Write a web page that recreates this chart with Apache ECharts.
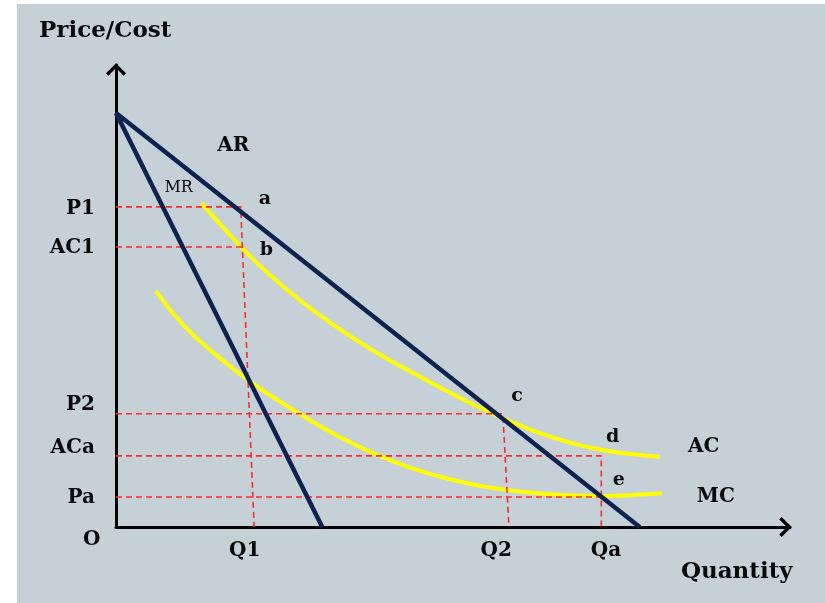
<!DOCTYPE html>
<html>
<head>
<meta charset="utf-8">
<script src="https://cdn.jsdelivr.net/npm/echarts@6/dist/echarts.min.js"></script>
<style>html,body{margin:0;padding:0;background:#fff;}#c{width:825px;height:603px;}</style>
</head>
<body>
<div id="c"></div>
<script>
// ---- data (unitless economic diagram coordinates) ----
const demandIntercept = 89.6;   // price at Q = 0 for AR and MR
const arEndQ = 77.7;            // AR meets the quantity axis
const mrEndQ = 30.6;            // MR meets the quantity axis

const acQ    = [12.7, 18.9, 22.8, 27.8, 32.7, 37.7, 42.6, 48.1, 53.0, 58.0, 62.9, 67.8, 72.8, 77.7, 80.7];
const acCost = [70.1, 60.1, 54.6, 48.5, 43.3, 38.6, 34.5, 30.2, 26.5, 23.2, 20.3, 18.1, 16.5, 15.6, 15.2];

const mcQ    = [5.9, 10.0, 14.9, 19.9, 22.8, 28.0, 33.2, 38.2, 43.1, 48.1, 53.0, 58.0, 62.9, 67.8, 71.8, 76.7, 81.0];
const mcCost = [51.1, 43.7, 37.2, 31.5, 28.6, 23.8, 19.5, 16.0, 13.1, 10.9, 9.2, 8.0, 7.3, 6.8, 6.7, 6.9, 7.3];

const yTickLabels = ['P1', 'AC1', 'P2', 'ACa', 'Pa'];
const yTickValues = [68.8, 60.4, 26.4, 17.1, 6.3];
const xTickLabels = ['Q1', 'Q2', 'Qa'];
const xTickValues = [19.1, 56.4, 72.7];

// dashed guide lines
const guideP1  = [[0, 69.3], [18.5, 69.3], [20.5, 0]];
const guideAC1 = [[0, 60.6], [18.8, 60.6]];
const guideP2  = [[0, 24.5], [57.4, 24.5], [58.3, 0]];
const guideACa = [[0, 15.4], [72.0, 15.4], [72.0, 0]];
const guidePa  = [[0, 6.5], [72.0, 6.5]];

const annotationNames = ['AR', 'MR', 'a', 'b', 'c', 'd', 'e', 'AC', 'MC', 'Quantity', 'O', 'Price/Cost'];
const annotationQ     = [17.4, 9.3, 22.1, 22.3, 59.5, 73.7, 74.6, 87.2, 89.0, 92.1, -3.6, -1.6];
const annotationP     = [82.5, 73.4, 71.0, 60.0, 28.4, 19.5, 10.2, 17.3, 6.5, -9.7, -2.8, 107.4];

// ---- styling ----
const FONT = 'DejaVu Serif';
const NAVY = '#0e2252';
const YELLOW = '#ffff00';
const RED = '#ff2a2a';
const TEXT = '#0a0a0a';
const arrowPath = 'path://M10 0 L20 10 L17.6 12.4 L10 4.8 L2.4 12.4 L0 10 Z';
const annotationSize = {'AR': 20, 'MR': 16, 'Quantity': 23, 'Price/Cost': 23, 'O': 20, 'AC': 20, 'MC': 20};
const annotationWeight = {'MR': 'normal'};

function zip(a, b) { return a.map((v, i) => [v, b[i]]); }
function nearestLabel(values, labels, v) {
  let best = 0;
  values.forEach((x, i) => { if (Math.abs(x - v) < Math.abs(values[best] - v)) best = i; });
  return labels[best];
}

const guideSeries = [guideP1, guideAC1, guideP2, guideACa, guidePa].map(g => ({
  type: 'line', data: g, showSymbol: false, silent: true, z: 3,
  lineStyle: { color: RED, width: 1.6, type: [6, 4] }
}));

const chart = echarts.init(document.getElementById('c'), null, { renderer: 'canvas' });
chart.setOption({
  animation: false,
  backgroundColor: '#ffffff',
  graphic: [{
    type: 'rect', left: 17, top: 4, z: -10, silent: true,
    shape: { width: 808, height: 599 },
    style: { fill: '#c6d0d7' }
  }],
  grid: { left: 116, right: 35, top: 65, bottom: 76, containLabel: false },
  xAxis: {
    type: 'value', min: 0, max: 100,
    splitLine: { show: false },
    axisTick: { show: false },
    axisLine: {
      show: true, onZero: true,
      lineStyle: { color: '#000', width: 3 },
      symbol: ['none', arrowPath], symbolSize: [20, 13], symbolOffset: [0, -4.5]
    },
    axisLabel: {
      customValues: xTickValues,
      formatter: v => nearestLabel(xTickValues, xTickLabels, v),
      margin: 14, color: TEXT, fontFamily: FONT, fontWeight: 'bold', fontSize: 20
    }
  },
  yAxis: {
    type: 'value', min: 0, max: 100,
    splitLine: { show: false },
    axisTick: { show: false },
    axisLine: {
      show: true,
      lineStyle: { color: '#000', width: 3 },
      symbol: ['none', arrowPath], symbolSize: [20, 13], symbolOffset: [0, -4.5]
    },
    axisLabel: {
      customValues: yTickValues,
      formatter: v => nearestLabel(yTickValues, yTickLabels, v),
      margin: 21, color: TEXT, fontFamily: FONT, fontWeight: 'bold', fontSize: 20
    }
  },
  series: [
    { name: 'AC', type: 'line', data: zip(acQ, acCost), smooth: 0.5, showSymbol: false, z: 2,
      lineStyle: { color: YELLOW, width: 4 } },
    { name: 'MC', type: 'line', data: zip(mcQ, mcCost), smooth: 0.5, showSymbol: false, z: 2,
      lineStyle: { color: YELLOW, width: 4 } },
    ...guideSeries,
    { name: 'AR', type: 'line', data: [[0, demandIntercept], [arEndQ, 0]], showSymbol: false, z: 4,
      lineStyle: { color: NAVY, width: 4.5 } },
    { name: 'MR', type: 'line', data: [[0, demandIntercept], [mrEndQ, 0]], showSymbol: false, z: 4,
      lineStyle: { color: NAVY, width: 4.5 } },
    { name: 'labels', type: 'scatter', clip: false, symbolSize: 0, silent: true, z: 5,
      itemStyle: { opacity: 1 },
      data: annotationNames.map((n, i) => ({
        name: n, value: [annotationQ[i], annotationP[i]],
        label: {
          show: true, position: 'inside', formatter: n,
          color: TEXT, fontFamily: FONT,
          fontWeight: annotationWeight[n] || 'bold',
          fontSize: annotationSize[n] || 19
        }
      }))
    }
  ]
});
</script>
</body>
</html>
